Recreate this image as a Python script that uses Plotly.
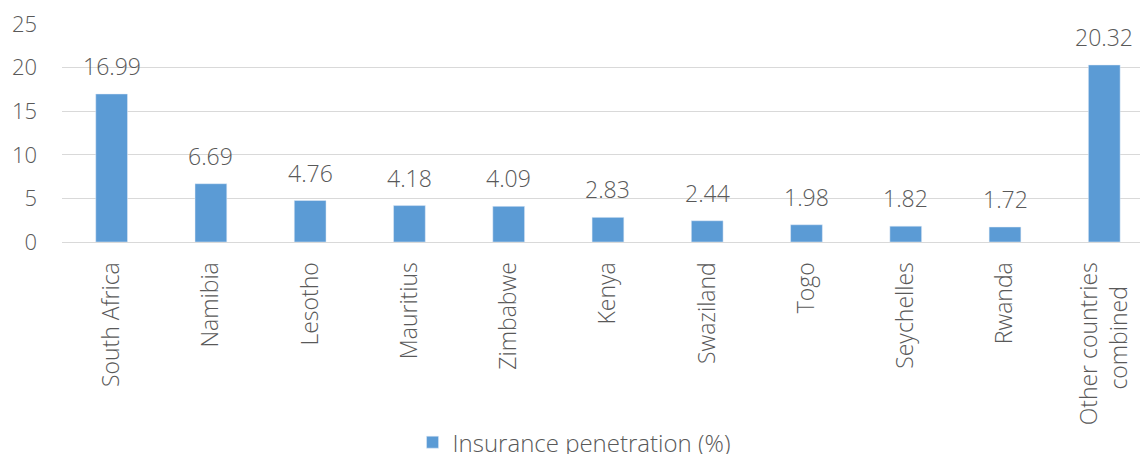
import plotly.graph_objects as go

categories = ["South Africa", "Namibia", "Lesotho", "Mauritius", "Zimbabwe", "Kenya",
              "Swaziland", "Togo", "Seychelles", "Rwanda",
              "Other countries<br>combined\u00a0\u00a0\u00a0\u00a0"]
values = [16.99, 6.69, 4.76, 4.18, 4.09, 2.83, 2.44, 1.98, 1.82, 1.72, 20.32]
series_name = "Insurance penetration (%)"
y_ticks = [0, 5, 10, 15, 20, 25]

FONT = "Open Sans, Segoe UI, sans-serif"
GREY = "#595959"

fig = go.Figure()
fig.add_trace(go.Bar(
    x=categories, y=values, name=series_name,
    marker=dict(color="#5b9bd5"), width=0.32,
    showlegend=True,
))

for c, v in zip(categories, values):
    fig.add_annotation(x=c, y=v, text=f"{v:.2f}", showarrow=False,
                       yanchor="bottom", yshift=10,
                       font=dict(family=FONT, size=23, color=GREY, weight=300))

fig.update_layout(
    width=1140, height=454,
    margin=dict(l=62, r=0, t=24, b=212, autoexpand=False),
    paper_bgcolor="white", plot_bgcolor="white",
    font=dict(family=FONT, size=22, color=GREY, weight=300),
    legend=dict(orientation="h", x=0.475, xanchor="center", y=-0.92, yanchor="middle",
                font=dict(family=FONT, size=24, color=GREY, weight=300),
                itemwidth=30),
    showlegend=True,
)
fig.update_xaxes(range=[-0.5, 10.36], tickangle=-90, showgrid=False, automargin=False,
                 showline=True, linecolor="#d9d9d9", linewidth=1,
                 ticks="", ticklabelstandoff=10, tickfont=dict(size=23, color=GREY))
fig.update_yaxes(range=[0, 25.02], tickvals=y_ticks, showgrid=True, gridcolor="#d9d9d9",
                 gridwidth=1, zeroline=False, showline=False, ticks="", automargin=False,
                 ticklabelstandoff=24, tickfont=dict(size=22, color=GREY))

fig.write_html("out.html", config={"displayModeBar": False},
               post_script="document.body.style.margin='0';document.body.style.overflow='hidden';")
